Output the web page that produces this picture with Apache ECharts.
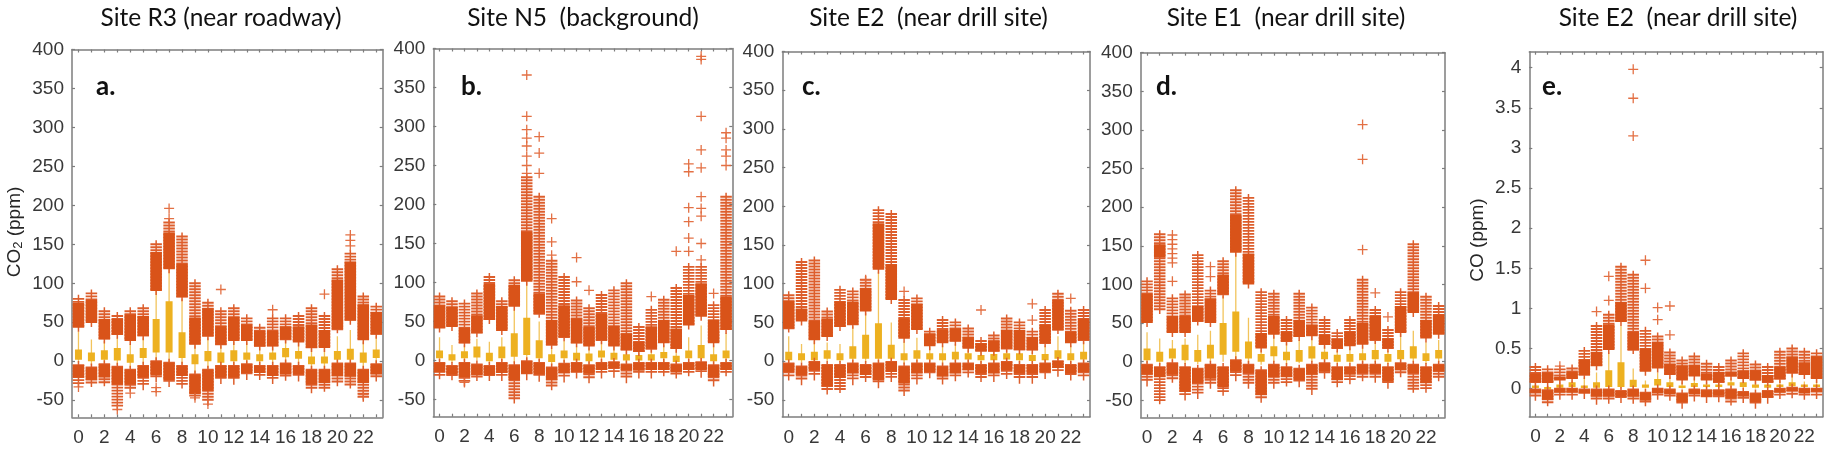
<!DOCTYPE html>
<html><head><meta charset="utf-8">
<script src="https://cdn.jsdelivr.net/npm/echarts@6/dist/echarts.min.js"></script>
<style>html,body{margin:0;padding:0;background:#fff}#c{width:1830px;height:454px}</style>
</head><body><div id="c"></div>
<script>
const hours = [0,1,2,3,4,5,6,7,8,9,10,11,12,13,14,15,16,17,18,19,20,21,22,23];
const xTickLabels = [0,2,4,6,8,10,12,14,16,18,20,22];
const yTicksCO2 = [-50,0,50,100,150,200,250,300,350,400];
const yTicksCO = [0,0.5,1,1.5,2,2.5,3,3.5,4];

// ---- Panel a: Site R3 ----
const aBoxLo = [2,0,2,1,-2,4,11,11,4,-4,0,-2,0,2,0,2,5,3,-4,-3,2,2,-2,4];
const aBoxHi = [15,11,14,17,9,17,54,77,37,9,13,11,14,11,9,11,17,13,6,6,13,16,11,15];
const aWhLo = [-2,-5,-2,-5,-9,-4,-1,-2,-4,-15,-9,-5,-5,-3,-5,-5,-2,-5,-10,-10,-2,-2,-10,-3];
const aWhHi = [38,28,26,30,22,30,90,118,80,20,30,20,25,24,18,18,28,23,16,16,32,40,25,32];
const aUpLo = [43,49,28,34,26,32,90,118,82,21,32,21,26,26,19,19,28,24,17,17,41,52,27,34];
const aUpHi = [75,79,54,54,60,58,140,165,125,56,68,45,57,47,39,39,45,45,47,40,105,128,73,63];
const aUpFr = [80,87,64,58,64,68,150,178,160,100,75,64,68,55,43,55,55,58,68,58,118,138,83,70];
const aDnHi = [-5,-8,-4,-7,-11,-6,0,-2,-6,-17,-11,-6,-6,-4,-6,-6,-3,-6,-11,-11,-3,-3,-11,-4];
const aDnLo = [-21,-24,-21,-30,-30,-21,-18,-24,-19,-42,-38,-21,-21,-15,-15,-19,-17,-17,-30,-28,-19,-20,-28,-17];
const aDnFr = [-28,-28,-27,-58,-34,-32,-22,-28,-30,-45,-52,-24,-25,-19,-19,-24,-20,-21,-36,-34,-27,-30,-47,-21];
const aOut = [[0,-33],[3,-62],[4,-41],[6,-34],[6,-39],[7,183],[7,196],[9,-47],[10,-55],[11,92],[15,66],[19,86],[21,148],[21,155],[21,162],[22,-43]];

// ---- Panel b: Site N5 ----
const bBoxLo = [3,0,3,4,-1,3,5,7,3,-2,3,0,-1,4,1,0,0,0,3,-2,3,3,-1,3];
const bBoxHi = [13,8,12,18,10,18,35,55,26,8,13,10,9,13,10,8,7,8,11,6,13,20,8,13];
const bWhLo = [-1,-3,-1,0,-4,-1,-3,-1,-1,-6,-2,-2,-4,-2,-2,-3,-2,-2,-2,-4,-2,-1,-5,-2];
const bWhHi = [30,20,20,28,24,30,65,100,50,15,25,18,16,24,18,12,10,14,20,14,30,45,20,35];
const bUpLo = [41,43,22,35,52,38,69,101,60,20,30,22,18,26,18,13,11,15,22,15,45,56,22,39];
const bUpHi = [71,69,42,58,98,70,97,165,86,52,71,54,43,60,45,35,24,44,52,41,84,99,52,82];
const bUpFr = [82,76,73,86,107,76,103,235,210,128,107,77,67,84,90,99,43,65,78,93,120,120,71,210];
const bDnHi = [-3,-7,-3,-5,-7,-3,-6,-1,-3,-9,-4,-3,-6,-3,-2,-5,-3,-3,-3,-5,-3,-2,-6,-3];
const bDnLo = [-15,-18,-21,-19,-19,-16,-25,-17,-18,-25,-16,-15,-17,-12,-10,-12,-13,-12,-12,-15,-12,-12,-21,-12];
const bDnFr = [-19,-20,-28,-21,-21,-21,-50,-20,-22,-33,-23,-18,-24,-18,-17,-24,-18,-18,-15,-18,-15,-17,-28,-15];
const bOut = [[2,-28],[7,240],[7,250],[7,262],[7,275],[7,285],[7,296],[7,313],[7,366],[8,240],[8,266],[8,287],[9,135],[9,152],[9,182],[11,101],[11,132],[12,90],[17,82],[19,140],[20,140],[20,157],[20,178],[20,196],[20,242],[20,252],[21,129],[21,150],[21,185],[21,195],[21,210],[21,247],[21,270],[21,313],[21,386],[21,390],[22,86],[23,250],[23,262],[23,270],[23,285],[23,292]];

// ---- Panel c: Site E2 (CO2) ----
const cBoxLo = [1,1,1,3,1,3,3,3,3,1,3,2,1,2,2,1,1,2,1,0,1,3,1,2];
const cBoxHi = [12,10,12,14,10,19,34,49,21,10,14,10,10,12,10,8,9,10,10,8,9,14,10,12];
const cWhLo = [-2,-2,-1,0,-2,-1,-2,-1,0,-4,-1,-1,-5,-1,-1,-3,-2,-1,-3,-3,-2,0,-3,-2];
const cWhHi = [32,22,26,24,22,45,62,115,50,25,30,18,20,22,14,12,12,15,14,12,20,32,20,25];
const cUpLo = [42,51,27,31,44,47,64,118,79,29,40,19,23,25,16,12,12,16,14,14,23,40,23,27];
const cUpHi = [78,68,52,55,77,77,94,178,125,55,74,36,40,42,31,23,27,40,40,31,47,79,38,55];
const cUpFr = [85,128,130,64,92,90,105,195,190,79,81,38,53,50,42,26,33,55,50,38,66,87,65,66];
const cDnHi = [-3,-7,-1,-5,-5,-3,-5,-3,-1,-7,-3,-3,-7,-3,-3,-5,-3,-1,-5,-5,-3,0,-5,-3];
const cDnLo = [-14,-18,-12,-33,-22,-16,-18,-25,-14,-29,-16,-14,-20,-16,-12,-16,-16,-12,-16,-16,-14,-9,-16,-14];
const cDnFr = [-20,-26,-20,-38,-36,-26,-22,-30,-22,-40,-25,-17,-25,-21,-16,-22,-22,-18,-24,-24,-18,-15,-20,-20];
const cOut = [[6,105],[9,90],[15,66],[19,53],[19,74],[22,81]];

// ---- Panel d: Site E1 ----
const dBoxLo = [2,0,4,2,0,4,9,13,4,0,7,2,0,4,3,0,0,2,3,0,3,4,1,4];
const dBoxHi = [17,13,17,22,15,22,50,65,26,10,20,13,15,20,13,9,10,11,15,10,15,20,11,15];
const dWhLo = [-2,-4,0,-3,-3,0,0,0,-2,-4,0,-4,-2,0,0,-2,-2,-2,-1,-3,-1,0,-3,-1];
const dWhHi = [38,30,28,30,35,40,85,140,57,15,33,24,28,33,20,14,18,20,27,14,36,40,25,28];
const dUpLo = [50,135,37,37,52,50,87,141,100,17,35,26,32,33,22,17,20,22,28,17,37,63,30,35];
const dUpHi = [88,152,59,59,72,82,113,190,140,37,59,39,54,48,35,30,39,50,59,30,72,90,54,61];
const dUpFrLo = [50,67,37,37,52,50,87,141,100,17,35,26,32,33,22,17,20,22,28,17,37,63,30,35];
const dUpFr = [104,165,82,87,138,92,130,222,212,90,88,54,88,70,54,37,54,106,67,41,90,152,84,72];
const dDnHi = [-4,-7,-2,-7,-9,-4,-7,2,-4,-11,-4,-7,-9,-4,-2,-7,-7,-4,-4,-7,-2,-4,-7,-4];
const dDnLo = [-17,-20,-17,-39,-28,-22,-33,-13,-15,-43,-20,-20,-24,-17,-13,-24,-17,-15,-15,-26,-11,-15,-28,-13];
const dDnFr = [-27,-50,-22,-45,-43,-30,-39,-20,-30,-48,-30,-27,-28,-38,-17,-28,-24,-20,-22,-30,-15,-35,-35,-20];
const dOut = [[2,104],[2,128],[2,134],[2,140],[2,146],[2,152],[2,158],[2,164],[5,110],[5,123],[17,145],[17,262],[17,307],[18,89],[19,58]];

// ---- Panel e: Site E2 (CO) ----
const eBoxLo = [0.01,0,0.01,0.02,0.01,0.01,0.02,0.02,0.02,0.01,0.04,0.02,0.01,0.02,0.02,0.02,0.04,0.02,0.01,0.01,0.02,0.03,0.02,0.02];
const eBoxHi = [0.04,0.02,0.05,0.08,0.04,0.08,0.23,0.33,0.11,0.05,0.12,0.08,0.04,0.07,0.05,0.05,0.08,0.08,0.05,0.05,0.05,0.08,0.05,0.05];
const eWhLo = [0,0,0,0,0,0,0,0,0,0,0,0,0,0,0,0,0.01,0,0,0,0,0,0,0];
const eWhHi = [0.07,0.04,0.09,0.10,0.14,0.20,0.45,0.78,0.25,0.10,0.20,0.15,0.08,0.13,0.08,0.08,0.13,0.12,0.09,0.08,0.10,0.18,0.09,0.10];
const eUpLo = [0.08,0.07,0.10,0.12,0.17,0.28,0.48,0.83,0.48,0.21,0.25,0.17,0.10,0.15,0.10,0.08,0.15,0.12,0.10,0.08,0.12,0.19,0.17,0.12];
const eUpHi = [0.19,0.20,0.15,0.21,0.36,0.46,0.80,1.08,0.71,0.50,0.58,0.31,0.29,0.29,0.19,0.21,0.21,0.23,0.23,0.17,0.27,0.40,0.33,0.40];
const eUpFr = [0.27,0.24,0.24,0.25,0.47,0.78,0.92,1.52,1.42,0.72,0.65,0.45,0.35,0.40,0.31,0.27,0.35,0.44,0.30,0.27,0.46,0.50,0.46,0.44];
const eDnHi = [-0.01,-0.02,0,0,-0.01,-0.01,-0.01,-0.03,-0.01,-0.05,0,-0.01,-0.06,-0.01,-0.02,-0.02,-0.01,-0.04,-0.06,-0.03,0,0.01,0,0];
const eDnLo = [-0.05,-0.14,-0.05,-0.05,-0.06,-0.10,-0.10,-0.10,-0.10,-0.15,-0.06,-0.07,-0.17,-0.07,-0.10,-0.09,-0.12,-0.10,-0.17,-0.11,-0.05,-0.03,-0.06,-0.04];
const eDnFr = [-0.10,-0.17,-0.09,-0.09,-0.08,-0.15,-0.14,-0.13,-0.14,-0.17,-0.09,-0.10,-0.20,-0.11,-0.13,-0.12,-0.16,-0.13,-0.20,-0.14,-0.08,-0.07,-0.09,-0.08];
const eOut = [[2,0.28],[5,0.96],[6,1.1],[6,1.4],[8,3.15],[8,3.62],[8,3.98],[9,1.25],[9,1.6],[10,0.86],[10,1.01],[11,0.67],[11,1.03]];

const C_BLOCK = '#D95319', C_FR = '#DD5E2C', C_BOX = '#EDB120', C_WH = '#F2C45C';
const AX = '#7d7d7d', TXT = '#383838';
const FONT_AX = '"Liberation Sans", Arial, sans-serif';
const FONT_T = 'Lato, "Noto Sans", sans-serif';

const panels = [
  {title:'Site R3 (near roadway)', letter:'a.', ylab:'co2', left:72, top:49.5, width:310.7, height:367.8, ymin:-72, ymax:400, yt:yTicksCO2, tx:221, lx:96, ylx:15,
   box:[aBoxLo,aBoxHi], wh:[aWhLo,aWhHi], up:[aUpLo,aUpHi,aUpLo,aUpFr], dn:[aDnHi,aDnLo,aDnFr], out:aOut},
  {title:'Site N5  (background)', letter:'b.', left:433.3, top:48.5, width:299, height:368.2, ymin:-72, ymax:400, yt:yTicksCO2, tx:583, lx:461,
   box:[bBoxLo,bBoxHi], wh:[bWhLo,bWhHi], up:[bUpLo,bUpHi,bUpLo,bUpFr], dn:[bDnHi,bDnLo,bDnFr], out:bOut},
  {title:'Site E2  (near drill site)', letter:'c.', left:782.3, top:51.5, width:307.7, height:365.3, ymin:-72, ymax:400, yt:yTicksCO2, tx:928.5, lx:802,
   box:[cBoxLo,cBoxHi], wh:[cWhLo,cWhHi], up:[cUpLo,cUpHi,cUpLo,cUpFr], dn:[cDnHi,cDnLo,cDnFr], out:cOut},
  {title:'Site E1  (near drill site)', letter:'d.', left:1140.7, top:52.7, width:304.3, height:364.6, ymin:-72, ymax:400, yt:yTicksCO2, tx:1286, lx:1156,
   box:[dBoxLo,dBoxHi], wh:[dWhLo,dWhHi], up:[dUpLo,dUpHi,dUpFrLo,dUpFr], dn:[dDnHi,dDnLo,dDnFr], out:dOut},
  {title:'Site E2  (near drill site)', letter:'e.', ylab:'co', left:1529.3, top:51.7, width:293.4, height:365, ymin:-0.35, ymax:4.2, yt:yTicksCO, tx:1678, lx:1542, ylx:1478,
   box:[eBoxLo,eBoxHi], wh:[eWhLo,eWhHi], up:[eUpLo,eUpHi,eUpLo,eUpFr], dn:[eDnHi,eDnLo,eDnFr], out:eOut}
];

function stripes(ch, cx, yA, yB){
  const top = Math.min(yA, yB), bot = Math.max(yA, yB);
  if (bot - top < 1) return;
  ch.push({type:'line', shape:{x1:cx, y1:top-4, x2:cx, y2:bot+4}, style:{stroke:C_FR, lineWidth:1.5}});
  for (let y = top; y <= bot + 0.1; y += 3) {
    ch.push({type:'line', shape:{x1:cx-5.75, y1:y, x2:cx+5.75, y2:y}, style:{stroke:C_FR, lineWidth:1.9}});
  }
}

function renderHour(params, api){
  const h = api.value(0);
  const Y = v => api.coord([h, v])[1];
  const cx = api.coord([h, 0])[0];
  const ch = [];
  ch.push({type:'line', shape:{x1:cx, y1:Y(api.value(3)), x2:cx, y2:Y(api.value(4))}, style:{stroke:C_WH, lineWidth:1.3}});
  const b1 = Y(api.value(1)), b2 = Y(api.value(2));
  ch.push({type:'rect', shape:{x:cx-3.5, y:Math.min(b1,b2), width:7, height:Math.max(2.5, Math.abs(b1-b2))}, style:{fill:C_BOX}});
  stripes(ch, cx, Y(api.value(7)), Y(api.value(8)));
  const u1 = Y(api.value(5)), u2 = Y(api.value(6));
  ch.push({type:'rect', shape:{x:cx-5.75, y:u2, width:11.5, height:u1-u2}, style:{fill:C_BLOCK}});
  stripes(ch, cx, Y(api.value(9)), Y(api.value(11)));
  const d1 = Y(api.value(9)), d2 = Y(api.value(10));
  ch.push({type:'rect', shape:{x:cx-5.75, y:d1, width:11.5, height:d2-d1}, style:{fill:C_BLOCK}});
  return {type:'group', children:ch};
}

const grid = [], xAxis = [], yAxis = [], series = [], graphic = [];
const PLUS = 'path://M4.35,0H5.65V10H4.35ZM0,4.35H10V5.65H0Z';

panels.forEach((p, i) => {
  grid.push({left:p.left, top:p.top, width:p.width, height:p.height, containLabel:false});
  const lineStyle = {color:AX, width:1.5};
  const base = {gridIndex:i, type:'value', min:-0.5, max:23.5, splitLine:{show:false},
    axisLine:{show:true, onZero:false, lineStyle}, axisTick:{show:true, inside:true, length:3, customValues:hours, lineStyle:{color:AX, width:1.2}}};
  xAxis.push(Object.assign({}, base, {position:'bottom',
    axisLabel:{customValues:xTickLabels, fontSize:19, color:TXT, fontFamily:FONT_AX, margin:11}}));
  xAxis.push(Object.assign({}, base, {position:'top', axisLabel:{show:false}}));
  const ybase = {gridIndex:i, type:'value', min:p.ymin, max:p.ymax, splitLine:{show:false},
    axisLine:{show:true, onZero:false, lineStyle}, axisTick:{show:true, inside:true, length:3, customValues:p.yt, lineStyle:{color:AX, width:1.2}}};
  yAxis.push(Object.assign({}, ybase, {position:'left',
    axisLabel:{customValues:p.yt, fontSize:19, color:TXT, fontFamily:FONT_AX, margin:8}}));
  yAxis.push(Object.assign({}, ybase, {position:'right', axisLabel:{show:false}}));

  const data = hours.map(h => [h, p.box[0][h], p.box[1][h], p.wh[0][h], p.wh[1][h],
    p.up[0][h], p.up[1][h], p.up[2][h], p.up[3][h], p.dn[0][h], p.dn[1][h], p.dn[2][h]]);
  series.push({type:'custom', xAxisIndex:2*i, yAxisIndex:2*i, renderItem:renderHour, data:data, clip:true,
    encode:{x:0, y:[1,2]}, silent:true, animation:false});
  series.push({type:'scatter', xAxisIndex:2*i, yAxisIndex:2*i, data:p.out, symbol:PLUS, symbolSize:10,
    itemStyle:{color:'#E2683A', opacity:0.95}, silent:true, animation:false, clip:true});

  graphic.push({type:'text', x:p.tx, y:18, style:{text:p.title, font:'24.5px ' + FONT_T, fill:'#111',
    align:'center', verticalAlign:'middle', textAlign:'center', textVerticalAlign:'middle'}});
  graphic.push({type:'text', x:p.lx, y:87, style:{text:p.letter, font:'bold 26px ' + FONT_T, fill:'#111',
    align:'left', verticalAlign:'middle', textAlign:'left', textVerticalAlign:'middle'}});
  if (p.ylab === 'co2') {
    graphic.push({type:'text', x:p.ylx, y:232, rotation:Math.PI/2, style:{
      text:'{m|CO}{s|2}{m| (ppm)}', align:'center', verticalAlign:'middle', textAlign:'center', textVerticalAlign:'middle',
      rich:{m:{fontSize:19, fontFamily:FONT_AX, fill:'#262626', lineHeight:20, verticalAlign:'top'},
            s:{fontSize:13, fontFamily:FONT_AX, fill:'#262626', lineHeight:14, verticalAlign:'bottom', padding:[10,0,0,0]}}}});
  } else if (p.ylab === 'co') {
    graphic.push({type:'text', x:p.ylx, y:240, rotation:Math.PI/2, style:{
      text:'CO (ppm)', font:'19px ' + FONT_AX, fill:'#262626', align:'center', verticalAlign:'middle', textAlign:'center', textVerticalAlign:'middle'}});
  }
});

const chart = echarts.init(document.getElementById('c'));
chart.setOption({animation:false, backgroundColor:'#fff', grid, xAxis, yAxis, series, graphic});
</script></body></html>
